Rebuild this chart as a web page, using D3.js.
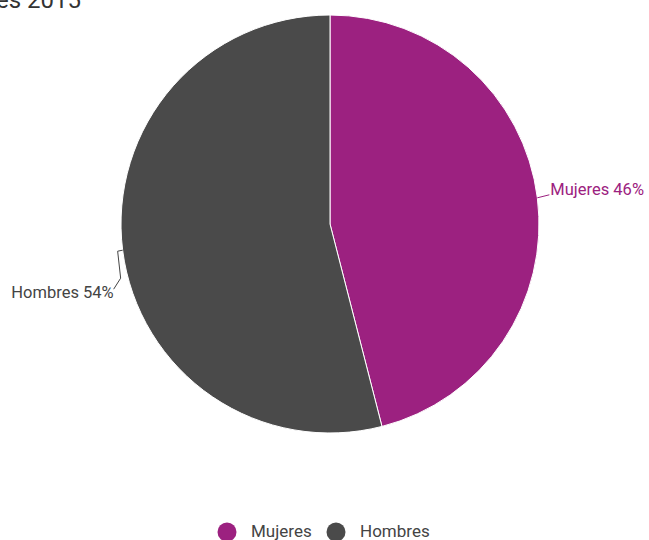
<!DOCTYPE html>
<html>
<head>
<meta charset="utf-8">
<script src="https://cdn.jsdelivr.net/npm/d3@7"></script>
<style>
  html, body { margin: 0; padding: 0; background: #fff; }
  svg { display: block; font-family: Roboto, "Noto Sans", sans-serif; }
</style>
</head>
<body>
<svg id="chart" width="649" height="540"></svg>
<script>
const categories = ["Mujeres", "Hombres"];
const values = [46, 54];
const colors = ["#9c2180", "#4a4a4a"];
const labelColors = ["#9c2180", "#444444"];
const titleText = "es 2015";

const svg = d3.select("#chart");
const cx = 330, cy = 224, R = 209;

// title (runs past the left edge)
svg.append("text")
  .attr("x", -4).attr("y", 8)
  .attr("font-size", 24)
  .attr("fill", "#333")
  .text(titleText);

const data = categories.map((c, i) => ({ name: c, value: values[i], i }));

const pie = d3.pie().value(d => d.value).sort(null);
const arcs = pie(data);
const arc = d3.arc().innerRadius(0).outerRadius(R);
const color = d3.scaleOrdinal().domain(categories).range(colors);

const g = svg.append("g").attr("transform", `translate(${cx},${cy})`);

g.selectAll("path.slice")
  .data(arcs)
  .join("path")
  .attr("class", "slice")
  .attr("d", arc)
  .attr("fill", d => color(d.data.name))
  .attr("stroke", "#fff")
  .attr("stroke-width", 1);

// labels with leader lines
function edgePoint(a, r) {
  return [r * Math.sin(a), -r * Math.cos(a)];
}

arcs.forEach((d, k) => {
  const mid = (d.startAngle + d.endAngle) / 2;
  const p0 = edgePoint(mid, R);
  const lbl = `${d.data.name} ${d.data.value}%`;
  if (Math.sin(mid) > 0) {
    const p1 = [p0[0] + 12, p0[1] - 3];
    g.append("path")
      .attr("d", d3.line()([p0, p1]))
      .attr("fill", "none")
      .attr("stroke", labelColors[k])
      .attr("stroke-width", 1);
    g.append("text")
      .attr("x", p1[0] + 1).attr("y", p1[1] - 4)
      .attr("dominant-baseline", "middle")
      .attr("font-size", 16.5)
      .attr("fill", labelColors[k])
      .text(lbl);
  } else {
    const p1 = [p0[0] - 5, p0[1] + 1];
    const p2 = [p0[0] - 2, p0[1] + 28];
    const p3 = [p0[0] - 9, p0[1] + 39];
    g.append("path")
      .attr("d", d3.line()([p0, p1, p2, p3]))
      .attr("fill", "none")
      .attr("stroke", labelColors[k])
      .attr("stroke-width", 1);
    g.append("text")
      .attr("x", p3[0]).attr("y", p3[1] + 4)
      .attr("text-anchor", "end")
      .attr("dominant-baseline", "middle")
      .attr("font-size", 16.5)
      .attr("fill", labelColors[k])
      .text(lbl);
  }
});

// legend
const legend = svg.append("g").attr("transform", "translate(0,532)");
const legendX = [227, 336];
categories.forEach((c, i) => {
  legend.append("circle")
    .attr("cx", legendX[i]).attr("cy", 0).attr("r", 9.5)
    .attr("fill", color(c));
  legend.append("text")
    .attr("x", legendX[i] + 24).attr("y", 1)
    .attr("dominant-baseline", "middle")
    .attr("font-size", 17)
    .attr("fill", "#444")
    .text(c);
});
</script>
</body>
</html>
